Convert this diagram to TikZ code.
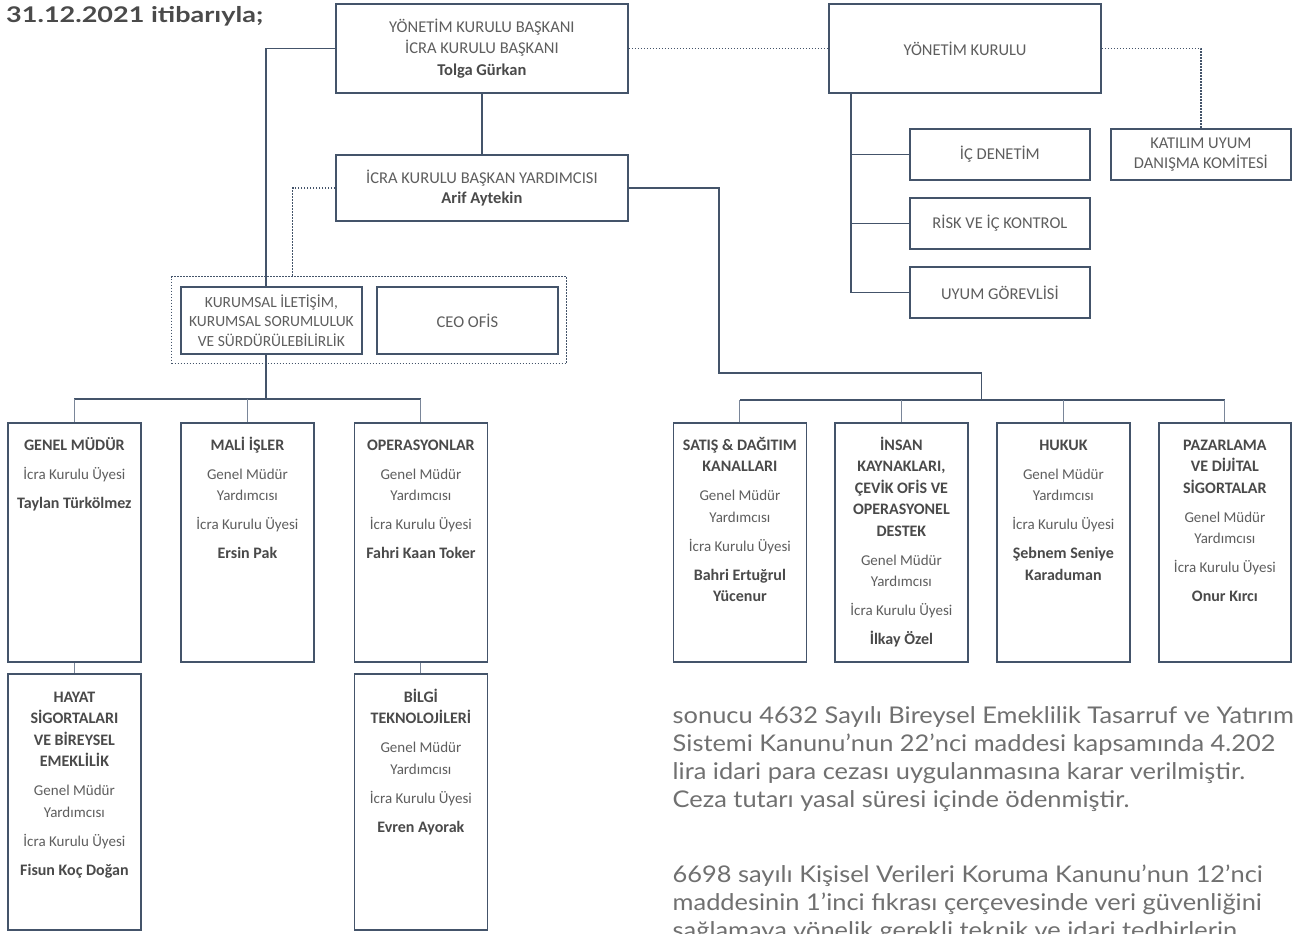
\documentclass[tikz,border=0pt]{standalone}
\usepackage{fontspec}
\setmainfont{Carlito}
\newfontfamily\bodyfont{Lato}
\definecolor{bx}{HTML}{44546A}
\definecolor{bxl}{HTML}{7A8699}
\definecolor{txt}{HTML}{5E5E5E}
\definecolor{txtb}{HTML}{4A4A4A}
\definecolor{bodyc}{HTML}{707070}
\newlength\bwid
\newlength\twid
\newcommand\Bx[1]{\textcolor{txtb}{\bfseries #1}}
\newcommand\Bl[1]{\textcolor{txtb}{\bfseries\fontsize{16}{21.5}\selectfont #1}}
\newcommand\Top{\rule{0pt}{16pt}}
\tikzset{
  box/.style={draw=bx, line width=1.8pt, inner sep=0pt, anchor=north west, align=center, text=txt},
  topbox/.style={box, font=\fontsize{16.5}{21.5}\selectfont},
  dotbox/.style={draw=bx, line width=1.3pt, dash pattern=on 1.3pt off 1.7pt, inner sep=0pt, anchor=north west},
  conn/.style={draw=bx, line width=1.6pt},
  thinconn/.style={draw=bxl, line width=1.1pt},
  dotconn/.style={draw=bx, line width=1.3pt, dash pattern=on 1.3pt off 1.7pt},
  boxtext/.style={anchor=north, inner sep=0pt, align=center, text=txt, font=\fontsize{15}{21.5}\selectfont},
}
\begin{document}
\settowidth\twid{\bodyfont\bfseries\fontsize{21.6}{26}\selectfont 31.12.2021 itibarıyla;}%
\settowidth\bwid{\bodyfont\fontsize{23}{28}\selectfont sonucu 4632 Sayılı Bireysel Emeklilik Tasarruf ve Yatırım}%
\begin{tikzpicture}[x=1pt,y=-1pt]
\useasboundingbox (0,0) rectangle (1296,934);
\fill[white] (0,0) rectangle (1296,934);
\clip (0,0) rectangle (1296,934);

% ---------- title ----------
\pgfmathsetmacro\tsc{257/\twid}
\begin{scope}[shift={(6,4)}, xscale=\tsc]
  \node[anchor=north west, inner sep=0pt, transform shape, text=txtb,
        font=\bodyfont\bfseries\fontsize{21.6}{26}\selectfont] (title) at (0,0)
        {\rule{0pt}{18pt}31.12.2021 itibarıyla;};
\end{scope}

% ---------- top boxes ----------
\node[topbox, minimum width=292pt, minimum height=89pt] (A) at (335,3)
  {YÖNETİM KURULU BAŞKANI\\İCRA KURULU BAŞKANI\\\Bx{Tolga Gürkan}};
\node[topbox, minimum width=272pt, minimum height=89pt] (B) at (828,3)
  {YÖNETİM KURULU};
\node[topbox, minimum width=292pt, minimum height=66pt, font=\fontsize{16.5}{20}\selectfont] (C) at (335,154)
  {İCRA KURULU BAŞKAN YARDIMCISI\\\Bx{Arif Aytekin}};
\node[topbox, minimum width=180pt, minimum height=51pt, font=\fontsize{16.5}{20}\selectfont] (KAT) at (1110,128)
  {KATILIM UYUM\\DANIŞMA KOMİTESİ};
\node[topbox, minimum width=180pt, minimum height=51pt] (IC) at (909,128) {İÇ DENETİM};
\node[topbox, minimum width=180pt, minimum height=51pt] (RISK) at (909,197) {RİSK VE İÇ KONTROL};
\node[topbox, minimum width=180pt, minimum height=51pt] (UYUM) at (909,266) {UYUM GÖREVLİSİ};

% ---------- staff group ----------
\node[dotbox, minimum width=395pt, minimum height=87pt] (GRP) at (171,276) {};
\node[topbox, minimum width=181pt, minimum height=67pt, font=\fontsize{15.5}{19.5}\selectfont] (KUR) at (180,286)
  {KURUMSAL İLETİŞİM,\\KURUMSAL SORUMLULUK\\VE SÜRDÜRÜLEBİLİRLİK};
\node[topbox, minimum width=181pt, minimum height=67pt] (CEO) at (376,286) {CEO OFİS};

% ---------- lower boxes ----------
\node[box, minimum width=133pt, minimum height=239pt] (GM) at (7,422) {};
\node[box, minimum width=133pt, minimum height=239pt] (MALI) at (180,422) {};
\node[box, minimum width=133pt, minimum height=239pt] (OPS) at (353.5,422) {};
\node[box, minimum width=133pt, minimum height=256pt] (HAY) at (7,673) {};
\node[box, minimum width=133pt, minimum height=256pt] (BIL) at (353.5,673) {};
\node[box, minimum width=133pt, minimum height=239pt] (SAT) at (672.5,422) {};
\node[box, minimum width=133pt, minimum height=239pt] (INS) at (834,422) {};
\node[box, minimum width=133pt, minimum height=239pt] (HUK) at (996,422) {};
\node[box, minimum width=132pt, minimum height=239pt] (PAZ) at (1158,422) {};

\node[boxtext] (tGM) at ([yshift=-12pt]GM.north)
  {\Top\Bl{GENEL MÜDÜR}\\[7.5pt]İcra Kurulu Üyesi\\[7.5pt]\Bl{Taylan Türkölmez}};
\node[boxtext] (tMALI) at ([yshift=-12pt]MALI.north)
  {\Top\Bl{MALİ İŞLER}\\[7.5pt]Genel Müdür\\Yardımcısı\\[7.5pt]İcra Kurulu Üyesi\\[7.5pt]\Bl{Ersin Pak}};
\node[boxtext] (tOPS) at ([yshift=-12pt]OPS.north)
  {\Top\Bl{OPERASYONLAR}\\[7.5pt]Genel Müdür\\Yardımcısı\\[7.5pt]İcra Kurulu Üyesi\\[7.5pt]\Bl{Fahri Kaan Toker}};
\node[boxtext] (tHAY) at ([yshift=-13pt]HAY.north)
  {\Top\Bl{HAYAT}\\\Bl{SİGORTALARI}\\\Bl{VE BİREYSEL}\\\Bl{EMEKLİLİK}\\[7.5pt]Genel Müdür\\Yardımcısı\\[7.5pt]İcra Kurulu Üyesi\\[7.5pt]\Bl{Fisun Koç Doğan}};
\node[boxtext] (tBIL) at ([yshift=-13pt]BIL.north)
  {\Top\Bl{BİLGİ}\\\Bl{TEKNOLOJİLERİ}\\[7.5pt]Genel Müdür\\Yardımcısı\\[7.5pt]İcra Kurulu Üyesi\\[7.5pt]\Bl{Evren Ayorak}};
\node[boxtext] (tSAT) at ([yshift=-12pt]SAT.north)
  {\Top\Bl{SATIŞ \& DAĞITIM}\\\Bl{KANALLARI}\\[7.5pt]Genel Müdür\\Yardımcısı\\[7.5pt]İcra Kurulu Üyesi\\[7.5pt]\Bl{Bahri Ertuğrul}\\\Bl{Yücenur}};
\node[boxtext] (tINS) at ([yshift=-12pt]INS.north)
  {\Top\Bl{İNSAN}\\\Bl{KAYNAKLARI,}\\\Bl{ÇEVİK OFİS VE}\\\Bl{OPERASYONEL}\\\Bl{DESTEK}\\[7.5pt]Genel Müdür\\Yardımcısı\\[7.5pt]İcra Kurulu Üyesi\\[7.5pt]\Bl{İlkay Özel}};
\node[boxtext] (tHUK) at ([yshift=-12pt]HUK.north)
  {\Top\Bl{HUKUK}\\[7.5pt]Genel Müdür\\Yardımcısı\\[7.5pt]İcra Kurulu Üyesi\\[7.5pt]\Bl{Şebnem Seniye}\\\Bl{Karaduman}};
\node[boxtext] (tPAZ) at ([yshift=-12pt]PAZ.north)
  {\Top\Bl{PAZARLAMA}\\\Bl{VE DİJİTAL}\\\Bl{SİGORTALAR}\\[7.5pt]Genel Müdür\\Yardımcısı\\[7.5pt]İcra Kurulu Üyesi\\[7.5pt]\Bl{Onur Kırcı}};

% ---------- connectors ----------
\coordinate (tk) at (266,0);
\coordinate (xd) at (292.5,0);
\coordinate (yk) at (851,0);
\coordinate (busL) at (0,399);
\coordinate (r1) at (719,373);
\coordinate (busR) at (981.5,400);

\draw[dotconn] (A.east) -- (B.west);
\draw[dotconn] (B.east) -| (KAT.north);
\draw[conn] (A.south) -- (C.north);
\draw[conn] (A.west) -| (tk |- KUR.north);
\draw[dotconn] (C.west) -| (xd |- GRP.north);
\draw[conn] (tk |- KUR.south) -- (tk |- busL);
\draw[conn] (GM.north |- busL) -- (OPS.north |- busL);
\draw[thinconn] (GM.north |- busL) -- (GM.north);
\draw[thinconn] (MALI.north |- busL) -- (MALI.north);
\draw[thinconn] (OPS.north |- busL) -- (OPS.north);
\draw[thinconn] (GM.south) -- (HAY.north);
\draw[thinconn] (OPS.south) -- (BIL.north);

\draw[conn] (C.east) -| (r1) -| (busR);
\draw[conn] (SAT.north |- busR) -- (PAZ.north |- busR);
\draw[thinconn] (SAT.north |- busR) -- (SAT.north);
\draw[thinconn] (INS.north |- busR) -- (INS.north);
\draw[thinconn] (HUK.north |- busR) -- (HUK.north);
\draw[thinconn] (PAZ.north |- busR) -- (PAZ.north);

\draw[conn] (yk |- B.south) |- (UYUM.west);
\draw[conn] (yk |- IC.west) -- (IC.west);
\draw[conn] (yk |- RISK.west) -- (RISK.west);

% ---------- body text ----------
\pgfmathsetmacro\bsc{621/\bwid}
\begin{scope}[shift={(672.5,699)}, xscale=\bsc]
  \node[anchor=north west, inner sep=0pt, align=left, transform shape, text=bodyc,
        font=\bodyfont\fontsize{23}{28}\selectfont] (body) at (0,0)
  {\rule{0pt}{24pt}sonucu 4632 Sayılı Bireysel Emeklilik Tasarruf ve Yatırım\\
   Sistemi Kanunu’nun 22’nci maddesi kapsamında 4.202\\
   lira idari para cezası uygulanmasına karar verilmiştir.\\
   Ceza tutarı yasal süresi içinde ödenmiştir.\\[47pt]
   6698 sayılı Kişisel Verileri Koruma Kanunu’nun 12’nci\\
   maddesinin 1’inci fıkrası çerçevesinde veri güvenliğini\\
   sağlamaya yönelik gerekli teknik ve idari tedbirlerin};
\end{scope}
\end{tikzpicture}
\end{document}
